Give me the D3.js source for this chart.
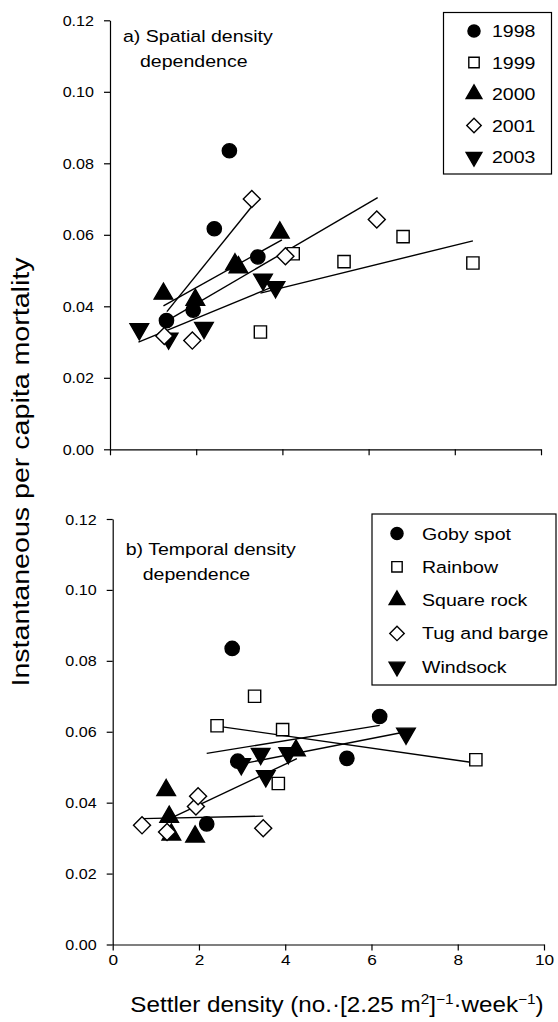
<!DOCTYPE html>
<html><head><meta charset="utf-8">
<script src="https://cdn.jsdelivr.net/npm/d3@7"></script>
<style>body{margin:0;background:#fff} svg{display:block}</style>
</head><body>
<svg id="c" width="558" height="1022"></svg>
<script>
// ---------- data ----------
const years = ["1998","1999","2000","2001","2003"];
const sites = ["Goby spot","Rainbow","Square rock","Tug and barge","Windsock"];
// settler density (x) and mortality (y) for each site, in year order
const gobyX = [2.77, 5.43, 2.90, 6.19, 2.18];
const gobyY = [0.0835, 0.0525, 0.0517, 0.0643, 0.0340];
const rainbowX = [2.42, 8.42, 3.94, 3.29, 3.84];
const rainbowY = [0.0617, 0.0521, 0.0606, 0.0700, 0.0454];
const squareRockX = [1.31, 4.25, 1.24, 1.91, 1.36];
const squareRockY = [0.0360, 0.0547, 0.0435, 0.0304, 0.0310];
const tugX = [1.93, 3.49, 1.98, 1.26, 0.68];
const tugY = [0.0389, 0.0328, 0.0418, 0.0317, 0.0336];
const windsockX = [3.43, 6.80, 2.98, 4.07, 3.55];
const windsockY = [0.0538, 0.0595, 0.0509, 0.0540, 0.0475];

// fitted lines, per year (panel a) and per site (panel b): endpoints
const yearFitX1 = [1.32, 3.49, 1.24, 1.26, 0.66];
const yearFitY1 = [0.0385, 0.0437, 0.0401, 0.0355, 0.0300];
const yearFitX2 = [3.29, 8.42, 3.99, 6.21, 3.83];
const yearFitY2 = [0.0679, 0.0583, 0.0586, 0.0704, 0.0457];
const siteFitX1 = [2.18, 2.42, 1.24, 0.68, 2.98];
const siteFitY1 = [0.0539, 0.0616, 0.0350, 0.0355, 0.0509];
const siteFitX2 = [6.19, 8.42, 4.27, 3.49, 6.80];
const siteFitY2 = [0.0618, 0.0512, 0.0524, 0.0362, 0.0600];

const xTicks = [0, 2, 4, 6, 8, 10];
const yTicks = [0, 0.02, 0.04, 0.06, 0.08, 0.10, 0.12];

// ---------- build ----------
const siteX = [gobyX, rainbowX, squareRockX, tugX, windsockX];
const siteY = [gobyY, rainbowY, squareRockY, tugY, windsockY];
const points = [];
sites.forEach((s, si) => years.forEach((yr, yi) => points.push({site: si, year: yi, x: siteX[si][yi], y: siteY[si][yi]})));

const FONT = '"Liberation Sans", Arial, Helvetica, sans-serif';
const SX = 1.15;
const svg = d3.select("#c").style("font-family", FONT);

// marker styles: 0 circle filled, 1 square open, 2 triangle up filled, 3 diamond open, 4 triangle down filled
const markerDefs = [
  {type: d3.symbolCircle, size: 160, fill: "#000", rot: 0},
  {type: d3.symbolSquare, size: 150, fill: "#fff", rot: 0},
  {type: d3.symbolTriangle, size: 150, fill: "#000", rot: 0},
  {type: d3.symbolSquare, size: 145, fill: "#fff", rot: 45},
  {type: d3.symbolTriangle, size: 150, fill: "#000", rot: 180}
];
function drawMarker(g, x, y, k, scale) {
  const m = markerDefs[k];
  g.append("path")
    .attr("d", d3.symbol().type(m.type).size(m.size * (scale || 1))())
    .attr("transform", `translate(${x},${y}) rotate(${m.rot})`)
    .attr("fill", m.fill).attr("stroke", "#000").attr("stroke-width", 1.4);
}
function txt(g, x, y, str, size, anchor, sx) {
  return g.append("text")
    .attr("transform", `translate(${x},${y}) scale(${sx || SX},1)`)
    .attr("font-size", size).attr("text-anchor", anchor || "start")
    .attr("fill", "#000").text(str);
}

function panel(cfg) {
  const x = d3.scaleLinear().domain([0, 10]).range(cfg.xr);
  const y = d3.scaleLinear().domain([0, 0.12]).range(cfg.yr);
  const g = svg.append("g");

  // y axis
  const ya = g.append("g").attr("transform", `translate(${cfg.xr[0]},0)`)
    .call(d3.axisLeft(y).tickValues(yTicks).tickFormat(d3.format(".2f")).tickSize(6).tickSizeOuter(0));
  ya.selectAll("text").attr("x", null).attr("dy", "0.36em")
    .attr("transform", `translate(-16,0) scale(${SX},1)`)
    .attr("font-size", 14).attr("font-family", FONT).attr("fill", "#000");
  // x axis
  const xa = g.append("g").attr("transform", `translate(0,${cfg.yr[0]})`)
    .call(d3.axisBottom(x).tickValues(xTicks).tickFormat(cfg.xlabels ? d3.format("d") : "").tickSize(6).tickSizeOuter(0));
  xa.selectAll("text").attr("y", null).attr("dy", null)
    .attr("transform", `translate(0,20) scale(${SX},1)`)
    .attr("font-size", 15).attr("font-family", FONT).attr("fill", "#000");
  g.selectAll(".domain, .tick line").attr("stroke", "#000").attr("stroke-width", 1.2);

  // fit lines
  cfg.fx1.forEach((_, i) => {
    g.append("line")
      .attr("x1", x(cfg.fx1[i])).attr("y1", y(cfg.fy1[i]))
      .attr("x2", x(cfg.fx2[i])).attr("y2", y(cfg.fy2[i]))
      .attr("stroke", "#000").attr("stroke-width", 1.4);
  });
  // points
  points.forEach(p => drawMarker(g, x(p.x), y(p.y), cfg.key(p)));

  // panel label
  txt(g, cfg.xr[0] + 13, cfg.labelY, cfg.label1, 17);
  txt(g, cfg.xr[0] + 30, cfg.labelY + 25, cfg.label2, 17);

  // legend
  const L = cfg.legend;
  g.append("rect").attr("x", L.x).attr("y", L.y).attr("width", L.w).attr("height", L.h)
    .attr("fill", "#fff").attr("stroke", "#000").attr("stroke-width", 1.2);
  cfg.names.forEach((n, i) => {
    const cy = L.y + L.first + i * L.step;
    drawMarker(g, L.sx, cy, i, 0.72);
    txt(g, L.tx, cy + 6, n, 17);
  });
}

panel({
  xr: [110, 541], yr: [449.3, 20.3], xlabels: false,
  fx1: yearFitX1, fy1: yearFitY1, fx2: yearFitX2, fy2: yearFitY2,
  key: p => p.year, names: years,
  label1: "a) Spatial density", label2: "dependence", labelY: 42,
  legend: {x: 443.5, y: 12.5, w: 108, h: 161.5, first: 18.5, step: 31.5, sx: 474, tx: 492}
});
panel({
  xr: [112.7, 544], yr: [944.5, 519], xlabels: true,
  fx1: siteFitX1, fy1: siteFitY1, fx2: siteFitX2, fy2: siteFitY2,
  key: p => p.site, names: sites,
  label1: "b) Temporal density", label2: "dependence", labelY: 555,
  legend: {x: 372, y: 514, w: 184, h: 171, first: 19.5, step: 33.3, sx: 397, tx: 422}
});

// axis titles
const xt = svg.append("text")
  .attr("transform", `translate(337,1012) scale(1.1,1)`)
  .attr("font-size", 22).attr("text-anchor", "middle").attr("fill", "#000");
xt.append("tspan").text("Settler density (no.·[2.25 m");
xt.append("tspan").attr("font-size", 14).attr("dy", -8).text("2");
xt.append("tspan").attr("dy", 8).text("]");
xt.append("tspan").attr("font-size", 14).attr("dy", -8).text("−1");
xt.append("tspan").attr("dy", 8).text("·week");
xt.append("tspan").attr("font-size", 14).attr("dy", -8).text("−1");
xt.append("tspan").attr("dy", 8).text(")");

svg.append("text")
  .attr("transform", `translate(29,472) rotate(-90) scale(1.3,1.08)`)
  .attr("font-size", 22).attr("text-anchor", "middle").attr("fill", "#000")
  .text("Instantaneous per capita mortality");
</script>
</body></html>
